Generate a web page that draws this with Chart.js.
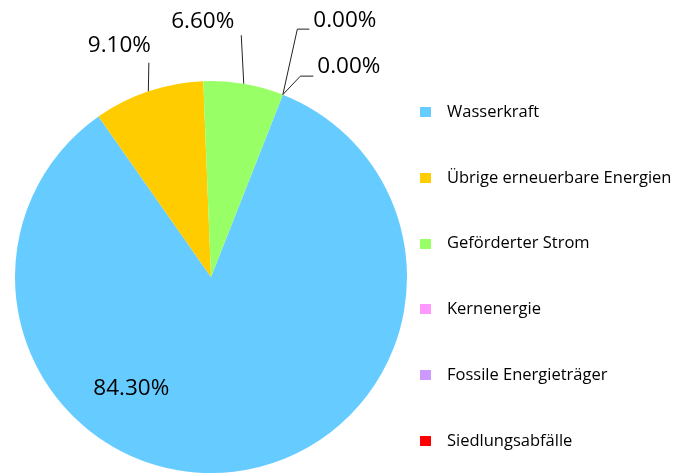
<!DOCTYPE html>
<html>
<head>
<meta charset="utf-8">
<script src="https://cdn.jsdelivr.net/npm/chart.js@4"></script>
<style>
  html, body { margin: 0; padding: 0; background: #fff; }
  #wrap { width: 687px; height: 473px; }
</style>
</head>
<body>
<div id="wrap"><canvas id="pie-chart"></canvas></div>
<script>
const categories = [
  "Wasserkraft",
  "Übrige erneuerbare Energien",
  "Geförderter Strom",
  "Kernenergie",
  "Fossile Energieträger",
  "Siedlungsabfälle",
];
const shares = [84.3, 9.1, 6.6, 0, 0, 0];
const colors = ["#66CCFF", "#FFCC00", "#99FF66", "#FF99FF", "#CC99FF", "#FF0000"];

// where each value label sits, relative to the point on the rim at the slice middle
const labelPlacement = [
  { inside: true, angle: 215.5, frac: 0.7 },
  { line: [[0, -29]], text: [-29, -46] },
  { line: [[-3, -49]], text: [-41, -62] },
  { line: [[14, -66], [26, -66]], text: [62, -74] },
  { line: [[17, -19], [30, -19]], text: [66, -28] },
  null,
];

const valueLabels = {
  id: "valueLabels",
  afterDatasetsDraw(chart) {
    const ctx = chart.ctx;
    const arcs = chart.getDatasetMeta(0).data;
    ctx.save();
    ctx.font = "22.5px 'Open Sans'";
    ctx.fillStyle = "#000";
    ctx.strokeStyle = "#222";
    ctx.lineWidth = 1;
    ctx.textAlign = "center";
    ctx.textBaseline = "middle";
    arcs.forEach((arc, i) => {
      const place = labelPlacement[i];
      if (!place) return;
      const text = shares[i].toFixed(2) + "%";
      const { x, y, outerRadius, startAngle, endAngle } = arc.getProps(
        ["x", "y", "outerRadius", "startAngle", "endAngle"], true);
      if (place.inside) {
        const a = (place.angle - 90) * Math.PI / 180;
        ctx.fillText(text, x + Math.cos(a) * outerRadius * place.frac,
          y + Math.sin(a) * outerRadius * place.frac);
        return;
      }
      const mid = (startAngle + endAngle) / 2;
      const ex = x + Math.cos(mid) * outerRadius;
      const ey = y + Math.sin(mid) * outerRadius;
      ctx.beginPath();
      ctx.moveTo(ex, ey);
      place.line.forEach(([dx, dy]) => ctx.lineTo(ex + dx + 0.5, ey + dy + 0.5));
      ctx.stroke();
      ctx.fillText(text, ex + place.text[0], ey + place.text[1]);
    });
    ctx.restore();
  },
};

const sideLegend = {
  id: "sideLegend",
  afterDraw(chart) {
    const ctx = chart.ctx;
    const bg = chart.data.datasets[0].backgroundColor;
    ctx.save();
    ctx.font = "16.5px 'Open Sans'";
    ctx.textBaseline = "middle";
    ctx.fillStyle = "#000";
    chart.data.labels.forEach((label, i) => {
      const cy = 112 + i * 65.8;
      ctx.fillStyle = bg[i];
      ctx.fillRect(420, Math.round(cy) - 5, 11, 10);
      ctx.fillStyle = "#000";
      ctx.fillText(label, 447, cy);
    });
    ctx.restore();
  },
};

new Chart(document.getElementById("pie-chart"), {
  type: "pie",
  data: {
    labels: categories,
    datasets: [
      {
        data: shares,
        backgroundColor: colors,
        borderWidth: 0,
      },
    ],
  },
  options: {
    responsive: true,
    maintainAspectRatio: false,
    animation: false,
    rotation: 21.5,
    layout: { padding: { left: 15, top: 81, right: 280, bottom: 0 } },
    plugins: {
      legend: { display: false },
      tooltip: { enabled: false },
    },
  },
  plugins: [valueLabels, sideLegend],
});
</script>
</body>
</html>
